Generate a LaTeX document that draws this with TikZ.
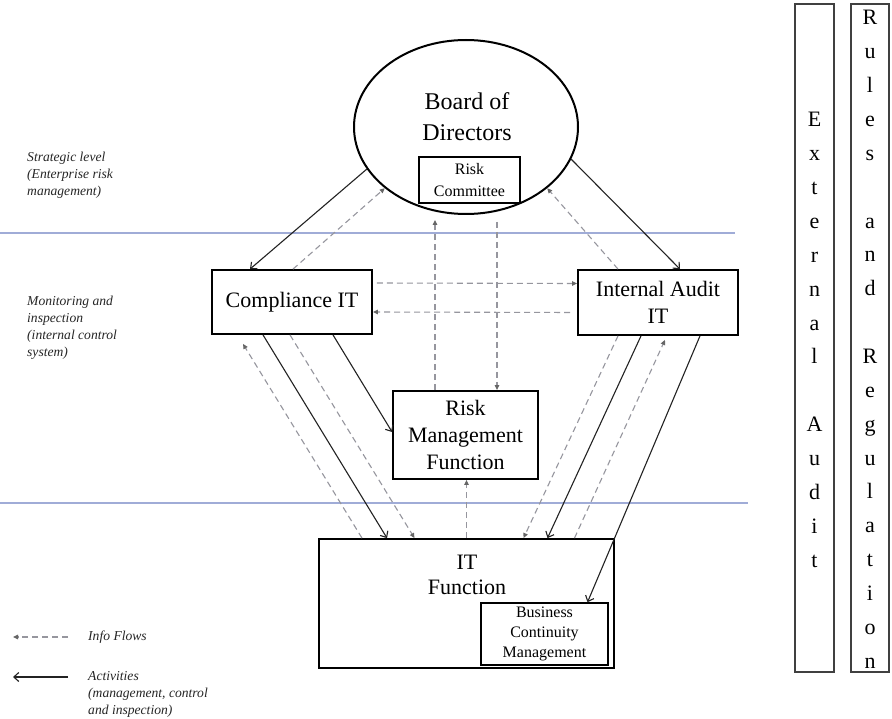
\documentclass[tikz,border=0pt]{standalone}
\usepackage{fontspec}
\setmainfont{Liberation Serif}
\usetikzlibrary{shapes.geometric,arrows.meta}
\definecolor{sepblue}{RGB}{160,172,215}
\definecolor{infogray}{RGB}{150,150,158}
\definecolor{actgray}{RGB}{35,35,35}
\tikzset{
 box/.style={draw=black, line width=1.8pt, fill=white, align=center, inner sep=0pt},
 act/.style={draw=actgray, line width=1.1pt, -{Straight Barb[length=5pt,width=9pt]}},
 info/.style={draw=infogray, line width=1.1pt, dash pattern=on 6pt off 4pt, -{Triangle[length=5pt,width=4.5pt,color=black!60]}},
 sepline/.style={draw=sepblue, line width=1.2pt},
 side/.style={draw=black!75, line width=1.1pt, inner sep=0pt},
 letter/.style={font=\fontsize{22}{22}\selectfont, anchor=base, inner sep=0pt},
 note/.style={font=\fontsize{13.6}{17}\selectfont\itshape, align=left, anchor=west, inner sep=0pt, text=black!85},
}
\begin{document}
\begin{tikzpicture}[x=1pt,y=-1pt]
\useasboundingbox (0,0) rectangle (892,719);
\fill[white] (0,0) rectangle (892,719);
% separator lines
\coordinate (s1a) at (0,233); \coordinate (s1b) at (735,233);
\coordinate (s2a) at (0,503); \coordinate (s2b) at (748,503);
\draw[sepline] (s1a) -- (s1b);
\draw[sepline] (s2a) -- (s2b);
% board
\node[draw, ellipse, line width=2pt, minimum width=224pt, minimum height=174pt, inner sep=0pt] (bod) at (466,127) {};
\node[font=\fontsize{24}{31}\selectfont, align=center, inner sep=0pt] (bodtext) at (467,117) {Board of\\Directors};
\node[box, line width=1.6pt, minimum width=101pt, minimum height=46pt, font=\fontsize{16}{22}\selectfont] (rc) at (469.5,180) {Risk\\Committee};
% boxes
\node[box, minimum width=160pt, minimum height=64pt, font=\fontsize{22}{27}\selectfont] (comp) at (292,302) {Compliance IT};
\node[box, minimum width=160pt, minimum height=65pt, font=\fontsize{22}{27}\selectfont] (ia) at (658,302.5) {Internal Audit\\IT};
\node[box, minimum width=145pt, minimum height=88pt, font=\fontsize{22}{27}\selectfont] (rm) at (465.5,435) {Risk\\Management\\Function};
\node[box, minimum width=295pt, minimum height=129pt] (itf) at (466.5,603.5) {};
\node[font=\fontsize{22}{25}\selectfont, align=center, inner sep=0pt] (itftext) at (467,574.5) {IT\\Function};
\node[box, line width=1.6pt, minimum width=127pt, minimum height=62pt, font=\fontsize{16}{20}\selectfont] (bcm) at (544.5,634) {Business\\Continuity\\Management};
% side columns
\node[side, minimum width=39pt, minimum height=668pt] (ea) at (814.5,338) {};
\node[side, minimum width=38pt, minimum height=668pt] (rr) at (870,338) {};
\foreach \l [count=\i from 0] in {E,x,t,e,r,n,a,l,{},A,u,d,i,t}
  \node[letter] (ea\i) at (814.5,{127+33.85*\i}) {\l};
\foreach \l [count=\i from 0] in {R,u,l,e,s,{},a,n,d,{},R,e,g,u,l,a,t,i,o,n}
  \node[letter] (rr\i) at (870,{25+33.85*\i}) {\l};
% left notes
\node[note] (strat) at (27,175) {Strategic level\\(Enterprise risk\\management)};
\node[note] (mon) at (27,328) {Monitoring and\\inspection\\(internal control\\system)};
% legend
\coordinate (info1) at (68,637); \coordinate (info2) at (13,637);
\draw[info] (info1) -- (info2);
\node[note] (infot) at (88,637) {Info Flows};
\coordinate (act1) at (68,677); \coordinate (act2) at (13,677);
\draw[act] (act1) -- (act2);
\node[note] (actt) at (88,694.5) {Activities\\(management, control\\and inspection)};
% upper connectors
\draw[act] (bod.203) -- ([xshift=-42pt]comp.north);
\draw[info] ([xshift=1pt]comp.north) -- (bod.217);
\draw[act] (bod.343) -- ([xshift=22pt]ia.north);
\draw[info] ([xshift=-40pt]ia.north) -- (bod.323);
\draw[info] ([xshift=-30.5pt]rm.north) -- ([xshift=-31pt,yshift=-5pt]bod.south);
\draw[info] ([xshift=31pt,yshift=-7pt]bod.south) -- ([xshift=31.5pt]rm.north);
\draw[info, shorten <=4pt] ([yshift=19pt]comp.east) -- ([yshift=19pt]ia.west);
\draw[info, shorten <=7pt] ([yshift=-10pt]ia.west) -- ([yshift=-10pt]comp.east);
% lower connectors
\draw[info] ([xshift=-104.5pt]itf.north) -- ([xshift=-49pt,yshift=-9pt]comp.south);
\draw[act] ([xshift=-29pt]comp.south) -- ([xshift=-79.5pt]itf.north);
\draw[info] ([xshift=-2pt]comp.south) -- ([xshift=-52pt]itf.north);
\draw[act] ([xshift=41pt]comp.south) -- ([yshift=3pt]rm.west);
\draw[info] (itf.north) -- (itf.north |- rm.south);
\draw[info] ([xshift=-40pt]ia.south) -- ([xshift=57pt]itf.north);
\draw[act] ([xshift=-17pt]ia.south) -- ([xshift=81pt]itf.north);
\draw[info] ([xshift=108pt]itf.north) -- ([xshift=7pt,yshift=-4pt]ia.south);
\draw[act] ([xshift=42pt]ia.south) -- ([xshift=43pt]bcm.north);
\end{tikzpicture}
\end{document}
